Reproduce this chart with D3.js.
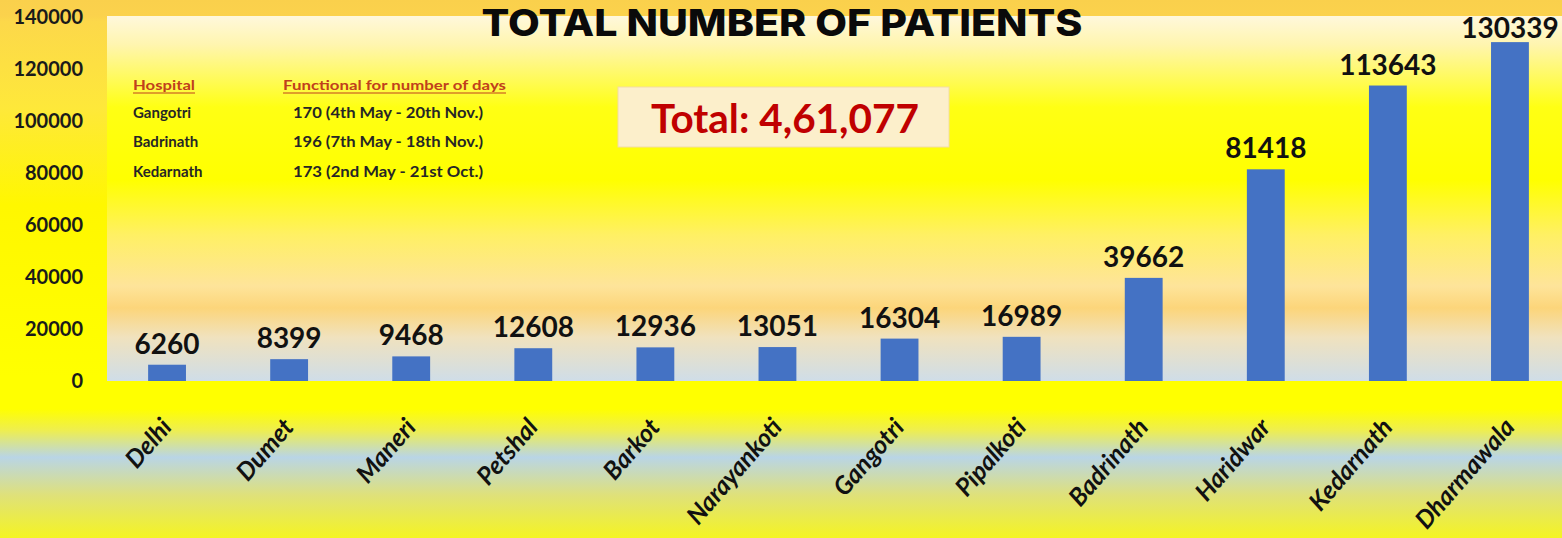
<!DOCTYPE html>
<html>
<head>
<meta charset="utf-8">
<script src="https://cdn.jsdelivr.net/npm/d3@7"></script>
<style>
  html, body { margin: 0; padding: 0; background: #ffff00; }
  svg { display: block; }
</style>
</head>
<body>
<svg id="chart" width="1562" height="538"></svg>
<script>
// ---- data ----
const categories = ["Delhi", "Dumet", "Maneri", "Petshal", "Barkot", "Narayankoti",
  "Gangotri", "Pipalkoti", "Badrinath", "Haridwar", "Kedarnath", "Dharmawala"];
const patients = [6260, 8399, 9468, 12608, 12936, 13051, 16304, 16989, 39662, 81418, 113643, 130339];
const yTicks = [0, 20000, 40000, 60000, 80000, 100000, 120000, 140000];
const titleText = "TOTAL NUMBER OF PATIENTS";
const totalText = "Total: 4,61,077";
const legendHeader = ["Hospital", "Functional for number of days"];
const legendHospitals = ["Gangotri", "Badrinath", "Kedarnath"];
const legendDays = ["170 (4th May - 20th Nov.)", "196 (7th May - 18th Nov.)", "173 (2nd May -  21st Oct.)"];

// ---- layout ----
const W = 1562, H = 538;
const svg = d3.select("#chart");
const defs = svg.append("defs");

function vGrad(id, stops) {
  const g = defs.append("linearGradient").attr("id", id)
    .attr("x1", 0).attr("y1", 0).attr("x2", 0).attr("y2", 1);
  stops.forEach(([o, c]) => g.append("stop").attr("offset", o).attr("stop-color", c));
}
vGrad("bgGrad", [
  [0, "#fad04c"], [0.03, "#fbd24c"], [0.04, "#fcd84a"], [0.2, "#fee83a"], [0.38, "#fff700"],
  [0.7, "#ffff00"], [0.76, "#ffff00"], [0.8, "#eeee50"], [0.85, "#b9d5e6"],
  [0.92, "#dfe17a"], [1, "#f4f422"]
]);
vGrad("panelGrad", [
  [0, "#fff8dc"], [0.08, "#fff5ae"], [0.25, "#ffff14"], [0.45, "#ffff00"],
  [0.6, "#fff064"], [0.74, "#fee49a"], [0.8, "#fcd57a"], [0.88, "#f0e2be"],
  [1, "#cfdde8"]
]);

svg.append("rect").attr("x", 0).attr("y", 0).attr("width", W).attr("height", H)
  .attr("fill", "url(#bgGrad)");

const x = d3.scaleBand().domain(categories).range([106, 1571]).paddingInner(0.69).paddingOuter(0.345);
const y = d3.scaleLinear().domain([0, 140000]).range([381, 17]);

// plot panel
svg.append("rect").attr("x", 107).attr("y", 16).attr("width", W - 107).attr("height", 381 - 16)
  .attr("fill", "url(#panelGrad)");

// y axis
const yAxis = d3.axisLeft(y).tickValues(yTicks).tickSize(0).tickPadding(0).tickFormat(d3.format("d"));
const gy = svg.append("g").attr("transform", "translate(83,0)").call(yAxis);
gy.select(".domain").remove();
gy.selectAll("text")
  .attr("font-family", "Lato, 'Open Sans', sans-serif")
  .attr("font-weight", 700).attr("font-size", 20).attr("fill", "#1a1a1a");

// bars
svg.append("g").selectAll("rect").data(patients).join("rect")
  .attr("x", (d, i) => x(categories[i]))
  .attr("width", x.bandwidth())
  .attr("y", d => y(d))
  .attr("height", d => y(0) - y(d))
  .attr("fill", "#4472c4");

// value labels
svg.append("g").selectAll("text").data(patients).join("text")
  .attr("x", (d, i) => x(categories[i]) + x.bandwidth() / 2)
  .attr("y", d => Math.max(y(d) - 11, 38))
  .attr("text-anchor", "middle")
  .attr("font-family", "Lato, 'Open Sans', sans-serif")
  .attr("font-weight", 700).attr("font-size", 28).attr("fill", "#111")
  .text(d => d);

// x axis labels
const xAxis = d3.axisBottom(x).tickSize(0).tickPadding(0);
const gx = svg.append("g").attr("transform", "translate(0,428)").call(xAxis);
gx.select(".domain").remove();
gx.selectAll("text")
  .attr("font-family", "Lato, 'Open Sans', sans-serif")
  .attr("font-weight", 700).attr("font-style", "italic").attr("font-size", 25).attr("fill", "#111")
  .attr("text-anchor", "end")
  .attr("dy", 0)
  .attr("transform", "translate(6,0) rotate(-49)");

// title
svg.append("text").attr("x", 782).attr("y", 36).attr("text-anchor", "middle")
  .attr("font-family", "Inter, 'Open Sans', sans-serif").attr("font-weight", 800)
  .attr("font-size", 37).attr("fill", "#0a0a0a")
  .attr("textLength", 601).attr("lengthAdjust", "spacingAndGlyphs")
  .text(titleText);

// total box
svg.append("rect").attr("x", 618).attr("y", 87).attr("width", 331).attr("height", 60)
  .attr("fill", "#fcefcb").attr("stroke", "#f3dca4").attr("stroke-width", 1);
svg.append("text").attr("x", 785).attr("y", 133).attr("text-anchor", "middle")
  .attr("font-family", "Lato, 'Open Sans', sans-serif").attr("font-weight", 700)
  .attr("font-size", 41).attr("fill", "#c00000")
  .attr("textLength", 268).attr("lengthAdjust", "spacingAndGlyphs")
  .text(totalText);

// legend table
const lg = svg.append("g").attr("font-family", "Lato, 'Open Sans', sans-serif").attr("font-weight", 700);
const hdrX = [133, 283];
const hdrW = [62, 223];
legendHeader.forEach((t, i) => {
  lg.append("text").attr("x", hdrX[i]).attr("y", 90).attr("font-size", 14)
    .attr("fill", "#c0401c").attr("textLength", hdrW[i]).attr("lengthAdjust", "spacingAndGlyphs").text(t);
  lg.append("line").attr("x1", hdrX[i]).attr("x2", hdrX[i] + hdrW[i]).attr("y1", 93).attr("y2", 93)
    .attr("stroke", "#c0401c").attr("stroke-width", 1);
});
const rowY = [118, 147, 177];
legendHospitals.forEach((t, i) => {
  lg.append("text").attr("x", 133).attr("y", rowY[i]).attr("font-size", 15)
    .attr("fill", "#262626").text(t);
});
legendDays.forEach((t, i) => {
  lg.append("text").attr("x", 293).attr("y", rowY[i]).attr("font-size", 15)
    .attr("fill", "#262626").attr("textLength", 190).attr("lengthAdjust", "spacingAndGlyphs").text(t);
});
</script>
</body>
</html>
